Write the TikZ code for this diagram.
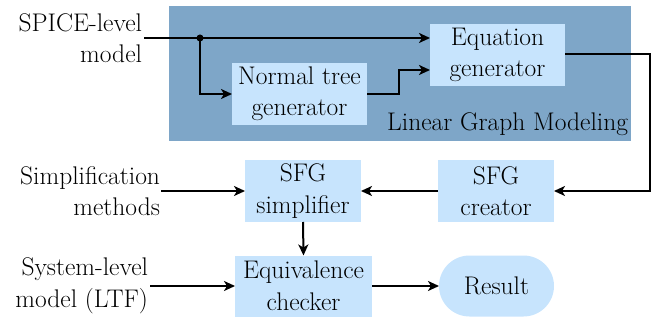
\documentclass[tikz,border=0pt]{standalone}
\usetikzlibrary{arrows.meta,shapes.misc,calc}
\definecolor{darkbg}{HTML}{7EA6C8}
\definecolor{lightbox}{HTML}{C7E4FD}
\begin{document}
\begin{tikzpicture}[x=1pt,y=-1pt,
  every node/.style={font=\fontsize{25.5}{31.5}\selectfont, inner sep=0pt, outer sep=0pt},
  blk/.style={fill=lightbox, minimum height=62pt, align=center},
  lbl/.style={align=right, anchor=east},
  conn/.style={line width=2pt, -{Stealth[length=11pt,width=10pt,inset=3pt]}}]
\useasboundingbox (0,0) rectangle (668,320);
\fill[darkbg] (169,6) rectangle (631,141);
\node[blk, minimum width=135pt] (ntg) at (299.5,94) {Normal tree\\generator};
\node[blk, minimum width=135pt] (eqg) at (497.5,55) {Equation\\generator};
\node[anchor=base east] (lgm) at (628,131) {Linear Graph Modeling};
\node[blk, minimum width=116pt] (sfgc) at (496,191) {SFG\\creator};
\node[blk, minimum width=116pt] (sfgs) at (303,191) {SFG\\simplifier};
\node[blk, minimum width=137pt, minimum height=61pt] (eqc) at (303.5,286) {Equivalence\\checker};
\node[fill=lightbox, rounded rectangle, minimum width=115pt, minimum height=61pt] (res) at (496.5,286) {Result};
\node[lbl] (spice) at (142,38) {SPICE-level\\model};
\node[lbl] (simp) at (160,191) {Simplification\\methods};
\node[lbl] (sys) at (148,286) {System-level\\model (LTF)};
\coordinate (s0) at (144,38);
\coordinate (dot) at (200,38);
\coordinate (bend) at (399,94);
\coordinate (rt) at (650,54);
\fill (dot) circle (3.5pt);
\draw[conn] (s0) -- (eqg.west |- s0);
\draw[conn] (dot) |- (ntg.west);
\draw[conn] (ntg.east) -- (bend) |- (eqg.west |- 0,70);
\draw[conn] (eqg.east |- rt) -- (rt) |- (sfgc.east);
\draw[conn] (sfgc.west) -- (sfgs.east);
\draw[conn] (simp.east |- sfgs.west) ++(1,0) -- (sfgs.west);
\draw[conn] (sfgs.south) -- (eqc.north);
\draw[conn] (sys.east |- eqc.west) ++(2,0) -- (eqc.west);
\draw[conn] (eqc.east) -- (res.west);
\end{tikzpicture}
\end{document}
